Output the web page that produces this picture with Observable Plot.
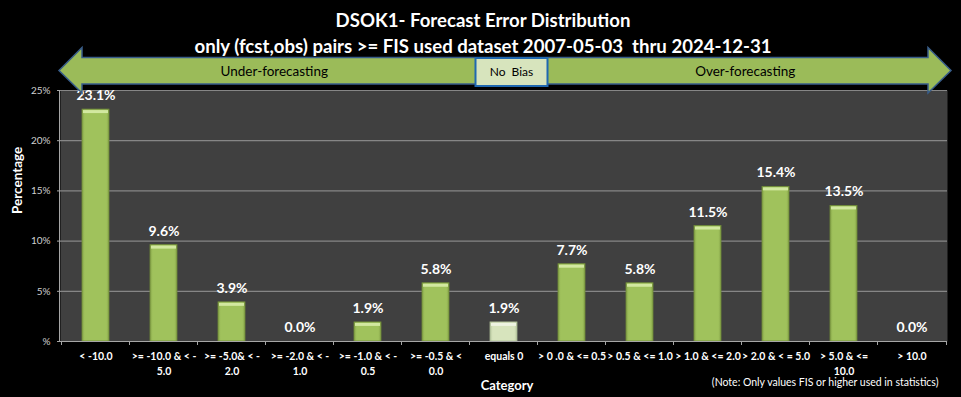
<!DOCTYPE html>
<html><head><meta charset="utf-8">
<script src="https://cdn.jsdelivr.net/npm/d3@7"></script>
<script src="https://cdn.jsdelivr.net/npm/@observablehq/plot@0.6"></script>
<style>
html,body{margin:0;padding:0;background:#000;}
#chart svg{display:block;}
</style></head><body><div id="chart"></div>
<script>
const categories = [
  "< -10.0",
  ">= -10.0 & < -\n5.0",
  ">= -5.0& < -\n2.0",
  ">= -2.0 & < -\n1.0",
  ">= -1.0 & < -\n0.5",
  ">= -0.5 & <\n0.0",
  "equals 0",
  "> 0 .0 & <= 0.5",
  "> 0.5 & <= 1.0",
  "> 1.0 & <= 2.0",
  "> 2.0 & < = 5.0",
  "> 5.0 & <=\n10.0",
  "> 10.0"
];
const values = [23.1, 9.6, 3.9, 0.0, 1.9, 5.8, 1.9, 7.7, 5.8, 11.5, 15.4, 13.5, 0.0];
const yTicks = [0, 5, 10, 15, 20, 25];
const title = "DSOK1- Forecast Error Distribution";
const subtitle = "only (fcst,obs) pairs >= FIS used dataset 2007-05-03  thru 2024-12-31";
const bandLabels = ["Under-forecasting", "No  Bias", "Over-forecasting"];
const note = "(Note: Only values FIS or higher used in statistics)";

const data = categories.map((c, i) => ({category: c, value: values[i]}));
const FONT = "Lato,'Open Sans',sans-serif";

function defsMark() {
  const svg = d3.create("svg:g");
  const defs = svg.append("defs");
  const mk = (id, edge, mid) => {
    const g = defs.append("linearGradient").attr("id", id).attr("x1", 0).attr("x2", 1).attr("y1", 0).attr("y2", 0);
    g.append("stop").attr("offset", "0%").attr("stop-color", edge);
    g.append("stop").attr("offset", "10%").attr("stop-color", mid);
    g.append("stop").attr("offset", "90%").attr("stop-color", mid);
    g.append("stop").attr("offset", "100%").attr("stop-color", edge);
  };
  mk("gGreen", "#86a449", "#a0c25c");
  mk("gLight", "#b9c9a0", "#d7e4bd");
  return svg.node();
}

function arrowBand(index, scales, vals, dims) {
  const g = d3.create("svg:g");
  const x0 = dims.marginLeft - 1, x1 = dims.width - dims.marginRight + 4;
  const yc = 70.5, bt = 57.5, bb = 84, ht = 47.5, hb = 93, hw = 23;
  const d = `M${x0},${yc}L${x0+hw},${ht}L${x0+hw},${bt}L${x1-hw},${bt}L${x1-hw},${ht}L${x1},${yc}L${x1-hw},${hb}L${x1-hw},${bb}L${x0+hw},${bb}L${x0+hw},${hb}Z`;
  g.append("path").attr("d", d).attr("fill", "#9bbb59").attr("stroke", "#385d8a").attr("stroke-width", 1.5);
  const nb0 = 475.5, nb1 = 547.5;
  g.append("rect").attr("x", nb0).attr("y", bt + 0.5).attr("width", nb1 - nb0).attr("height", bb - bt + 1.5)
    .attr("fill", "#d7e4bd").attr("stroke", "#1f68b0").attr("stroke-width", 2);
  const cy = (bt + bb) / 2 + 1;
  const t = (x, s) => g.append("text").attr("x", x).attr("y", cy).attr("dy", "0.35em")
    .attr("text-anchor", "middle").attr("font-family", FONT).attr("font-size", 13.5).attr("fill", "#000").text(s);
  t((x0 + nb0) / 2 + 7, bandLabels[0]);
  g.append("text").attr("x", (nb0 + nb1) / 2).attr("y", cy).attr("dy", "0.35em").attr("text-anchor", "middle")
    .attr("font-family", FONT).attr("font-size", 12).attr("fill", "#000").attr("xml:space", "preserve").text(bandLabels[1]);
  t((nb1 + x1) / 2 - 4, bandLabels[2]);
  return g.node();
}

function axisLines(index, scales, vals, dims) {
  const g = d3.create("svg:g").attr("stroke", "#a6a6a6").attr("stroke-width", 1);
  const x = scales.x;
  const y0 = dims.height - dims.marginBottom;
  const L = dims.marginLeft, R = dims.width - dims.marginRight;
  const step = (R - L) / categories.length;
  g.append("line").attr("x1", L - 0.5).attr("x2", L - 0.5).attr("y1", dims.marginTop).attr("y2", y0);
  g.append("line").attr("x1", L).attr("x2", R).attr("y1", y0 + 0.5).attr("y2", y0 + 0.5);
  categories.forEach((c, i) => {
    const xc = x(c) + (x.bandwidth ? x.bandwidth() / 2 : 0);
    const xb = Math.round(xc - step / 2) + 0.5;
    g.append("line").attr("x1", xb).attr("x2", xb).attr("y1", y0).attr("y2", y0 + 4);
  });
  const xe = Math.round(R) - 0.5;
  g.append("line").attr("x1", xe).attr("x2", xe).attr("y1", y0).attr("y2", y0 + 4);
  return g.node();
}

const chart = Plot.plot({
  width: 961,
  height: 397,
  marginLeft: 60,
  marginRight: 14,
  marginTop: 90,
  marginBottom: 56,
  style: {background: "#000", color: "#fff", fontFamily: FONT, overflow: "visible"},
  x: {domain: categories, paddingInner: 0.61, paddingOuter: 0.305, label: null},
  y: {domain: [0, 25], label: null},
  marks: [
    defsMark,
    Plot.frame({fill: "#404040", stroke: null}),
    Plot.gridY({ticks: yTicks.filter(d => d > 0), stroke: "#868686", strokeOpacity: 1, strokeWidth: 1.2}),
    Plot.barY(data.filter(d => d.value > 0), {
      x: "category", y: "value",
      fill: d => d.category === "equals 0" ? "url(#gLight)" : "url(#gGreen)",
      stroke: d => d.category === "equals 0" ? "#a9b893" : "#6f8a38", strokeWidth: 0.8
    }),
    Plot.tickY(data.filter(d => d.value > 0), {
      x: "category", y: "value",
      stroke: d => d.category === "equals 0" ? "#eef4e2" : "#d2e8a0",
      strokeWidth: 3, dy: 2, insetLeft: 1, insetRight: 1
    }),
    Plot.text(data, {
      x: "category", y: "value", text: d => d.value.toFixed(1) + "%",
      dy: -14, fill: "#fff", fontWeight: "bold", fontSize: 14
    }),
    axisLines,
    Plot.axisY({ticks: yTicks, tickFormat: d => d === 0 ? "%" : d + "%", tickSize: 3, tickPadding: 7,
      fontSize: 10, color: "#d0d0d0", stroke: "#a6a6a6", label: null}),
    Plot.axisX({tickSize: 0, tickPadding: 8, fontSize: 10.5, fontWeight: "bold", lineHeight: 1.4, label: null, color: "#fff"}),
    arrowBand,
    Plot.text([title], {text: d => d, frameAnchor: "top", lineAnchor: "middle", dx: -21, dy: -69, fontSize: 18.6, fontWeight: "bold", fill: "#fff"}),
    Plot.text([subtitle], {text: d => d, frameAnchor: "top", lineAnchor: "middle", dx: -21, dy: -43, fontSize: 18.6, fontWeight: "bold", fill: "#fff"}),
    Plot.text(["Percentage"], {text: d => d, frameAnchor: "left", lineAnchor: "middle", rotate: -90, dx: -43, dy: -2, fontSize: 13.5, fontWeight: "bold", fill: "#fff"}),
    Plot.text(["Category"], {text: d => d, frameAnchor: "bottom", lineAnchor: "middle", dx: 3, dy: 44, fontSize: 13, fontWeight: "bold", fill: "#fff"}),
    Plot.text([note], {text: d => d, frameAnchor: "bottom-right", lineAnchor: "middle", textAnchor: "end", dx: -9, dy: 41, fontSize: 10.5, fill: "#fff"})
  ]
});
document.getElementById("chart").appendChild(chart);
</script>
</body></html>
